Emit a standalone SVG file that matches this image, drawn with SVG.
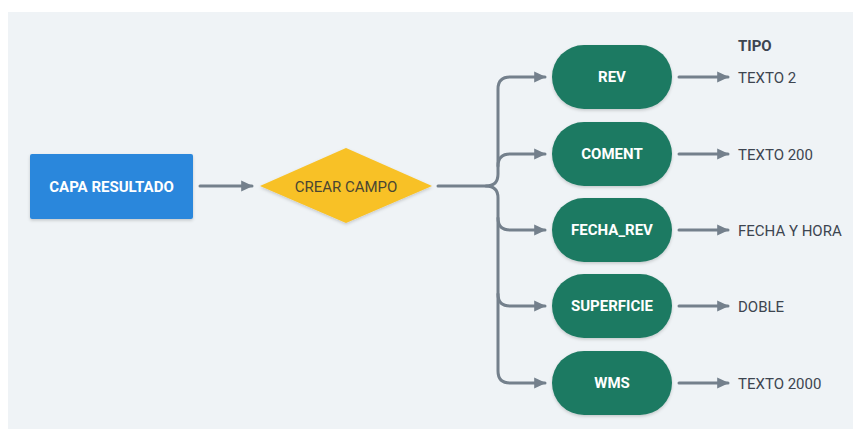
<svg xmlns="http://www.w3.org/2000/svg" width="853" height="430" viewBox="0 0 853 430">
  <defs>
    <style>
      .lbl { font-family: Roboto, "Liberation Sans", sans-serif; font-size: 15px; text-anchor: middle; dominant-baseline: central; }
      .wht { fill: #ffffff; font-weight: bold; }
      .typ { font-family: Roboto, "Liberation Sans", sans-serif; font-size: 15px; fill: #3d4550; dominant-baseline: central; }
      .conn { fill: none; stroke: #74808c; stroke-width: 3; stroke-linecap: round; }
      .pill { fill: #1f7a62; filter: url(#sh); }
    </style>
    <marker id="arr" markerUnits="userSpaceOnUse" markerWidth="12" markerHeight="12" viewBox="0 0 10 10" refX="9" refY="5" orient="auto">
      <path d="M0,0.5 L10,5 L0,9.5 Z" fill="#74808c"/>
    </marker>
    <filter id="sh" x="-20%" y="-20%" width="140%" height="150%">
      <feDropShadow dx="0" dy="1.5" stdDeviation="1.5" flood-color="#000" flood-opacity="0.18"/>
    </filter>
  </defs>

  <!-- page -->
  <rect width="853" height="430" fill="#ffffff"/>
  <rect x="8" y="12" width="845" height="417" fill="#eff3f6"/>

  <!-- connectors -->
  <g id="connectors">
    <path class="conn" d="M200,186 H252" marker-end="url(#arr)"/>
    <path class="conn" d="M438,186 H486 Q498,186 498,174 V89 Q498,77 510,77 H545" marker-end="url(#arr)"/>
    <path class="conn" d="M486,186 Q498,186 498,198 V371 Q498,383 510,383 H545" marker-end="url(#arr)"/>
    <path class="conn" d="M498,166 Q498,154 510,154 H545" marker-end="url(#arr)"/>
    <path class="conn" d="M498,218 Q498,230 510,230 H545" marker-end="url(#arr)"/>
    <path class="conn" d="M498,294 Q498,306 510,306 H545" marker-end="url(#arr)"/>
    <path class="conn" d="M679,77 H728" marker-end="url(#arr)"/>
    <path class="conn" d="M679,154 H728" marker-end="url(#arr)"/>
    <path class="conn" d="M679,230 H728" marker-end="url(#arr)"/>
    <path class="conn" d="M679,306 H728" marker-end="url(#arr)"/>
    <path class="conn" d="M679,383 H728" marker-end="url(#arr)"/>
  </g>

  <g id="capa-resultado">
    <rect x="30" y="154" width="163" height="65" rx="2" fill="#2b87dc" filter="url(#sh)"/>
    <text class="lbl wht" x="111.5" y="187">CAPA RESULTADO</text>
  </g>

  <g id="crear-campo">
    <polygon points="260,186 346,148 432,186 346,223" fill="#f8c125" filter="url(#sh)"/>
    <text class="lbl" x="346" y="187" fill="#4a4632">CREAR CAMPO</text>
  </g>

  <g id="rev">
    <rect class="pill" x="552" y="45" width="120" height="64" rx="32"/>
    <text class="lbl wht" x="612" y="77">REV</text>
  </g>
  <g id="coment">
    <rect class="pill" x="552" y="122" width="120" height="64" rx="32"/>
    <text class="lbl wht" x="612" y="154">COMENT</text>
  </g>
  <g id="fecha-rev">
    <rect class="pill" x="552" y="198" width="120" height="64" rx="32"/>
    <text class="lbl wht" x="612" y="230">FECHA_REV</text>
  </g>
  <g id="superficie">
    <rect class="pill" x="552" y="274" width="120" height="64" rx="32"/>
    <text class="lbl wht" x="612" y="306">SUPERFICIE</text>
  </g>
  <g id="wms">
    <rect class="pill" x="552" y="351" width="120" height="64" rx="32"/>
    <text class="lbl wht" x="612" y="383">WMS</text>
  </g>

  <g id="tipos">
    <text class="typ" x="738" y="46" font-weight="bold" fill="#2f3640">TIPO</text>
    <text class="typ" x="738" y="78">TEXTO 2</text>
    <text class="typ" x="738" y="155">TEXTO 200</text>
    <text class="typ" x="738" y="231">FECHA Y HORA</text>
    <text class="typ" x="738" y="307">DOBLE</text>
    <text class="typ" x="738" y="384">TEXTO 2000</text>
  </g>
</svg>
